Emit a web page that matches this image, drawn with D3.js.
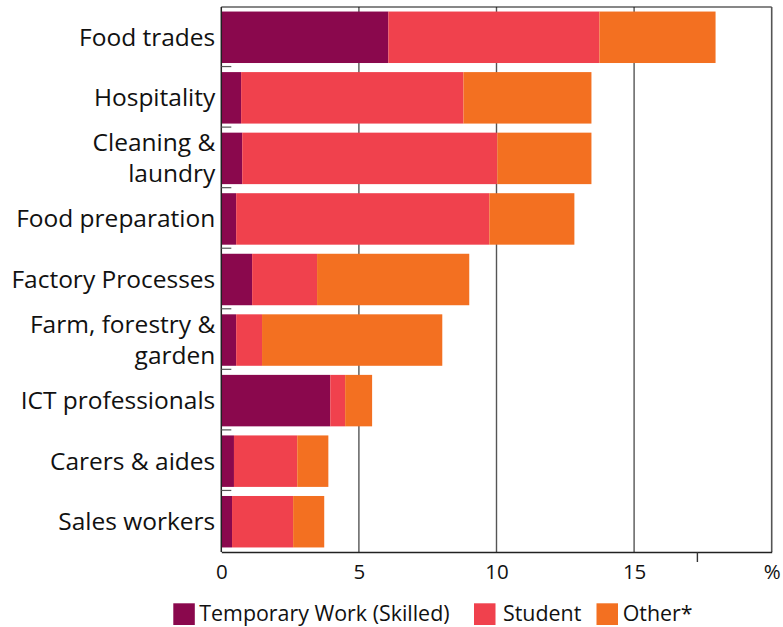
<!DOCTYPE html>
<html>
<head>
<meta charset="utf-8">
<script src="https://cdn.jsdelivr.net/npm/d3@7"></script>
<style>
  html, body { margin: 0; padding: 0; background: #fff; }
  svg { display: block; font-family: "Open Sans", sans-serif; }
</style>
</head>
<body>
<svg id="chart" width="783" height="627"></svg>
<script>
// Occupation categories (top to bottom); "\n" splits a label onto two lines
const categories = [
  "Food trades",
  "Hospitality",
  "Cleaning &\nlaundry",
  "Food preparation",
  "Factory Processes",
  "Farm, forestry &\ngarden",
  "ICT professionals",
  "Carers & aides",
  "Sales workers"
];

// Share of workers (%) by visa type
const temporaryWorkSkilled = [6.07, 0.72, 0.76, 0.54, 1.12, 0.54, 3.96, 0.46, 0.39];
const student              = [7.67, 8.08, 9.27, 9.20, 2.36, 0.94, 0.54, 2.30, 2.22];
const other                = [4.22, 4.65, 3.42, 3.09, 5.53, 6.55, 0.98, 1.13, 1.13];

const seriesNames  = ["Temporary Work (Skilled)", "Student", "Other*"];
const seriesColors = ["#8A084D", "#F0414D", "#F37021"];

const xTickValues = [0, 5, 10, 15, 20];
const xTickLabels = ["0", "5", "10", "15", "%"];
const xExtraTick  = 17.3;

const svg = d3.select("#chart");
const width = 783, height = 627;
const margin = { top: 7, right: 11.3, bottom: 75, left: 221.3 };
const innerW = width - margin.left - margin.right;
const innerH = height - margin.top - margin.bottom;

const rows = categories.map((c, i) => ({
  category: c,
  "Temporary Work (Skilled)": temporaryWorkSkilled[i],
  "Student": student[i],
  "Other*": other[i]
}));

const stacked = d3.stack().keys(seriesNames)(rows);

const x = d3.scaleLinear().domain([0, 20]).range([margin.left, margin.left + innerW]);
const y = d3.scaleBand().domain(categories).range([margin.top, margin.top + innerH]).paddingInner(0.15).paddingOuter(0.075);
const color = d3.scaleOrdinal().domain(seriesNames).range(seriesColors);

// vertical gridlines
svg.append("g")
  .selectAll("line")
  .data([5, 10, 15])
  .join("line")
  .attr("x1", d => x(d)).attr("x2", d => x(d))
  .attr("y1", margin.top).attr("y2", margin.top + innerH)
  .attr("stroke", "#555").attr("stroke-width", 1.4);

// bars
svg.append("g")
  .selectAll("g")
  .data(stacked)
  .join("g")
  .attr("fill", d => color(d.key))
  .selectAll("rect")
  .data(d => d)
  .join("rect")
  .attr("x", d => x(d[0]))
  .attr("width", d => x(d[1]) - x(d[0]))
  .attr("y", d => y(d.data.category))
  .attr("height", y.bandwidth());

// frame: top and right borders
svg.append("line")
  .attr("x1", margin.left).attr("x2", margin.left + innerW)
  .attr("y1", margin.top).attr("y2", margin.top)
  .attr("stroke", "#111").attr("stroke-width", 1.2);
svg.append("line")
  .attr("x1", margin.left + innerW).attr("x2", margin.left + innerW)
  .attr("y1", margin.top).attr("y2", margin.top + innerH)
  .attr("stroke", "#555").attr("stroke-width", 1.6);

// x axis
const xAxis = d3.axisBottom(x)
  .tickValues(xTickValues)
  .tickFormat((d, i) => xTickLabels[i])
  .tickSize(0)
  .tickPadding(12);
const gx = svg.append("g")
  .attr("transform", `translate(0,${margin.top + innerH})`)
  .call(xAxis);
gx.select(".domain").attr("stroke", "#222").attr("stroke-width", 1.5);
gx.selectAll("text").attr("font-size", 20.5).attr("fill", "#111")
  .attr("font-family", "Open Sans, sans-serif");

svg.append("line")
  .attr("x1", x(xExtraTick)).attr("x2", x(xExtraTick))
  .attr("y1", margin.top + innerH).attr("y2", margin.top + innerH + 10)
  .attr("stroke", "#333").attr("stroke-width", 1.4);

// y axis: left line, with small inward ticks between categories
svg.append("line")
  .attr("x1", margin.left).attr("x2", margin.left)
  .attr("y1", margin.top).attr("y2", margin.top + innerH)
  .attr("stroke", "#222").attr("stroke-width", 1.5);

const step = y.step();
svg.append("g")
  .selectAll("line")
  .data(categories.slice(1))
  .join("line")
  .attr("x1", margin.left).attr("x2", margin.left + 10)
  .attr("y1", d => y(d) - (step - y.bandwidth()) / 2 - 1)
  .attr("y2", d => y(d) - (step - y.bandwidth()) / 2 - 1)
  .attr("stroke", "#555").attr("stroke-width", 1.2);

// category labels
const labelG = svg.append("g")
  .attr("font-size", 24.5).attr("fill", "#111").attr("text-anchor", "end");
categories.forEach(c => {
  const lines = c.split("\n");
  const cy = y(c) + y.bandwidth() / 2;
  const lh = 31;
  const t = labelG.append("text").attr("x", margin.left - 6);
  lines.forEach((ln, i) => {
    const off = (i - (lines.length - 1) / 2) * lh;
    t.append("tspan")
      .attr("x", margin.left - 6)
      .attr("y", cy + off + 8.5)
      .text(ln);
  });
});

// legend
const legendItems = [
  { name: seriesNames[0], sx: 173.3, tx: 199.3 },
  { name: seriesNames[1], sx: 474, tx: 503 },
  { name: seriesNames[2], sx: 596.5, tx: 622.7 }
];
const lg = svg.append("g");
legendItems.forEach(it => {
  lg.append("rect")
    .attr("x", it.sx).attr("y", 603.3)
    .attr("width", 21.5).attr("height", 21.7)
    .attr("fill", color(it.name));
  lg.append("text")
    .attr("x", it.tx).attr("y", 621)
    .attr("font-size", 21.4).attr("fill", "#111")
    .text(it.name);
});
</script>
</body>
</html>
